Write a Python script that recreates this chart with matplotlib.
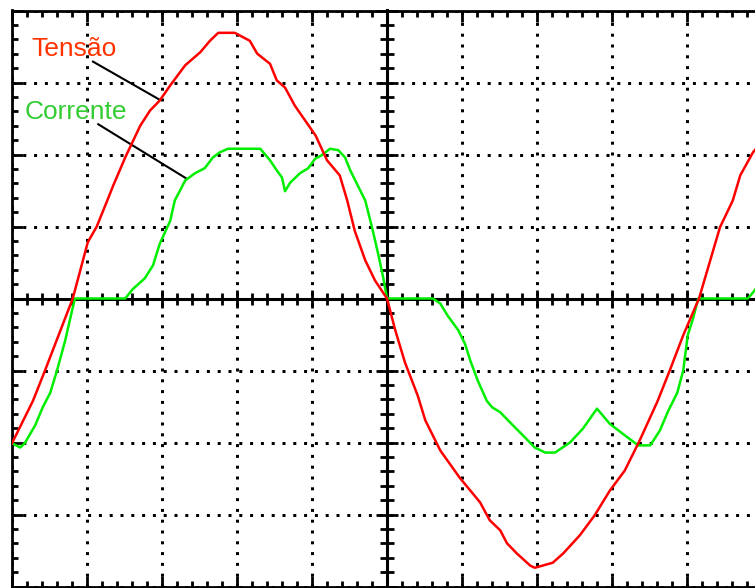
import matplotlib.pyplot as plt
import numpy as np

# time and amplitude in screen divisions (10 x 8 oscilloscope screen)
t_tensao = [0.00, 0.28, 0.44, 0.81, 1.01, 1.13, 1.27, 1.35, 1.51, 1.71, 1.84, 1.97,
            2.11, 2.31, 2.51, 2.64, 2.75, 2.97, 3.17, 3.27, 3.44, 3.53, 3.64, 3.77,
            3.91, 4.05, 4.20, 4.37, 4.47, 4.57, 4.71, 4.84, 5.00, 5.11, 5.24, 5.41,
            5.51, 5.71, 5.97, 6.24, 6.37, 6.51, 6.60, 6.73, 6.91, 6.97, 7.21, 7.35,
            7.57, 7.77, 7.97, 8.17, 8.37, 8.61, 8.77, 8.95, 9.16, 9.31, 9.44, 9.61,
            9.71, 9.88, 9.92]
v_tensao = [-2.01, -1.42, -1.00, 0.00, 0.78, 1.00, 1.36, 1.57, 1.96, 2.40, 2.61, 2.75,
            2.96, 3.24, 3.42, 3.58, 3.69, 3.69, 3.58, 3.40, 3.26, 3.03, 2.93, 2.68,
            2.47, 2.26, 1.92, 1.71, 1.36, 0.94, 0.53, 0.25, 0.00, -0.44, -0.89, -1.35,
            -1.69, -2.11, -2.49, -2.83, -3.08, -3.22, -3.40, -3.54, -3.71, -3.74, -3.67, -3.54,
            -3.29, -3.01, -2.67, -2.39, -1.97, -1.42, -1.00, -0.51, 0.00, 0.53, 0.99, 1.36,
            1.71, 2.03, 2.08]

t_corrente = [0.00, 0.11, 0.17, 0.31, 0.41, 0.51, 0.60, 0.71, 0.80, 0.84, 1.51, 1.61,
              1.77, 1.88, 1.97, 2.04, 2.11, 2.17, 2.31, 2.44, 2.57, 2.68, 2.77, 2.88,
              3.31, 3.44, 3.53, 3.60, 3.64, 3.71, 3.84, 3.95, 4.04, 4.13, 4.24, 4.35,
              4.44, 4.51, 4.61, 4.71, 4.80, 4.88, 4.95, 5.00, 5.61, 5.71, 5.81, 5.95,
              6.04, 6.11, 6.21, 6.33, 6.40, 6.51, 6.64, 6.84, 6.97, 7.11, 7.24, 7.44,
              7.61, 7.80, 7.97, 8.17, 8.35, 8.51, 8.64, 8.75, 8.87, 8.95, 9.01, 9.08,
              9.15, 9.81, 9.87, 9.92]
i_corrente = [-2.01, -2.07, -2.01, -1.76, -1.51, -1.31, -1.00, -0.58, -0.17, 0.00, 0.00, 0.13,
              0.28, 0.46, 0.76, 0.92, 1.08, 1.36, 1.64, 1.74, 1.81, 1.96, 2.03, 2.08,
              2.08, 1.92, 1.78, 1.68, 1.49, 1.61, 1.74, 1.81, 1.94, 1.99, 2.08, 2.06,
              1.96, 1.78, 1.57, 1.36, 0.99, 0.63, 0.29, 0.00, 0.00, -0.07, -0.24, -0.44,
              -0.63, -0.86, -1.14, -1.42, -1.51, -1.58, -1.72, -1.93, -2.07, -2.14, -2.14, -2.00,
              -1.81, -1.53, -1.74, -1.90, -2.04, -2.04, -1.83, -1.56, -1.31, -1.00, -0.51, -0.28,
              0.00, 0.00, 0.07, 0.14]

W, H = 755, 588
fig = plt.figure(figsize=(W / 100, H / 100), dpi=100)
rect = [12 / W, 1.5 / H, 750 / W, 576 / H]

ax = fig.add_axes(rect)
ax.set_xlim(0, 10)
ax.set_ylim(-4, 4)
for s in ['top', 'left', 'bottom', 'right']:
    ax.spines[s].set_linewidth(2.0)
ax.set_xticks(np.arange(0, 11, 1))
ax.set_yticks(np.arange(-4, 5, 1))
ax.set_xticks(np.arange(0, 10.01, 0.2), minor=True)
ax.set_yticks(np.arange(-4, 4.01, 0.2), minor=True)
ax.tick_params(which='both', direction='in', top=True, bottom=True, left=True, right=False,
               labelbottom=False, labelleft=False, width=2.0)
ax.tick_params(which='major', length=8)
ax.tick_params(which='minor', length=4.5)
ax.grid(True, which='major', color='black', linewidth=2.16, linestyle=(0, (1, 2.6)))

# centre crosshair with ticks on both sides
cx = fig.add_axes(rect, sharex=ax, sharey=ax)
cx.patch.set_visible(False)
cx.spines['top'].set_visible(False)
cx.spines['right'].set_visible(False)
cx.spines['left'].set_position(('data', 5))
cx.spines['bottom'].set_position(('data', 0))
cx.spines['left'].set_linewidth(2.2)
cx.spines['bottom'].set_linewidth(2.2)
cx.tick_params(which='both', direction='inout', labelbottom=False, labelleft=False, width=2.0)
cx.tick_params(axis='x', which='major', length=13)
cx.tick_params(axis='x', which='minor', length=8.5)
cx.tick_params(axis='y', which='major', length=16)
cx.tick_params(axis='y', which='minor', length=9.5)

cx.plot(t_corrente, i_corrente, color='#00ee00', lw=1.8, zorder=5)
cx.plot(t_tensao, v_tensao, color='#ff0000', lw=1.8, zorder=6)

cx.text(0.26, 3.375, 'Tensão', color='#ff3300', fontsize=19,
        family='Liberation Sans', ha='left', va='baseline')
cx.text(0.17, 2.5, 'Corrente', color='#33cc33', fontsize=19,
        family='Liberation Sans', ha='left', va='baseline')
cx.plot([1.08, 1.97], [3.29, 2.76], color='black', lw=1.5)
cx.plot([1.15, 2.32], [2.42, 1.67], color='black', lw=1.5)

plt.savefig('out.png', dpi=100)
